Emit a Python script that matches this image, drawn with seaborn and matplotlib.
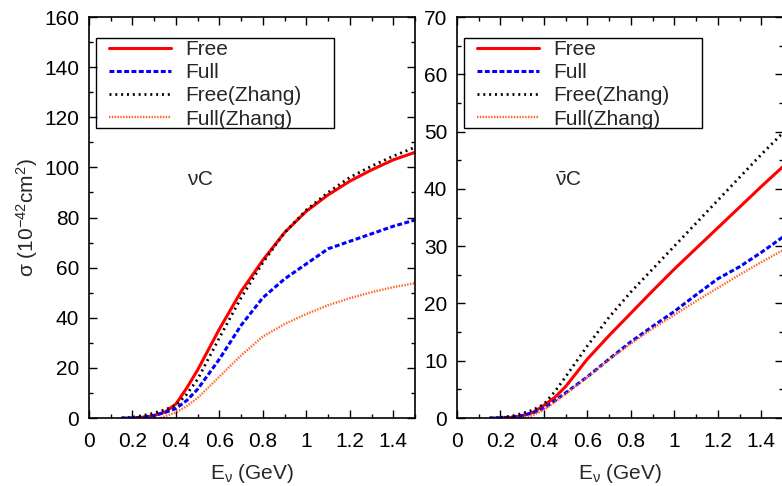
import matplotlib
matplotlib.use("Agg")
import matplotlib.pyplot as plt
import seaborn as sns
import numpy as np
from matplotlib.ticker import MultipleLocator
from matplotlib.patches import Rectangle

sns.set_theme(style="white")
plt.rcParams['font.family'] = ['Liberation Sans', 'DejaVu Sans']
plt.rcParams['mathtext.fontset'] = 'custom'
plt.rcParams['mathtext.rm'] = 'Liberation Sans'
plt.rcParams['mathtext.it'] = 'Liberation Sans'

# ---------------- data: neutrino (left) ----------------
nu_free_x = [0.2, 0.25, 0.3, 0.35, 0.4, 0.45, 0.5, 0.6, 0.7, 0.8, 0.9, 1.0, 1.1, 1.2, 1.3, 1.4, 1.5]
nu_free_y = [0.0, 0.3, 1.0, 2.4, 5.6, 12.0, 19.2, 35.5, 50.5, 63.0, 74.0, 82.5, 89.0, 94.5, 99.0, 103.0, 106.0]
nu_full_x = [0.15, 0.2, 0.25, 0.3, 0.35, 0.4, 0.45, 0.5, 0.6, 0.7, 0.8, 0.9, 1.0, 1.1, 1.2, 1.3, 1.4, 1.5]
nu_full_y = [0.0, 0.1, 0.3, 1.0, 2.2, 3.8, 7.0, 11.5, 23.5, 37.0, 48.0, 55.5, 61.5, 67.5, 70.5, 73.5, 76.5, 79.0]
nu_freez_x = [0.15, 0.2, 0.25, 0.3, 0.35, 0.4, 0.45, 0.5, 0.6, 0.7, 0.8, 0.9, 1.0, 1.1, 1.2, 1.3, 1.4, 1.5]
nu_freez_y = [0.0, 0.3, 1.0, 2.0, 3.3, 5.0, 9.5, 15.5, 32.0, 48.0, 62.0, 74.0, 83.0, 90.0, 96.0, 100.5, 104.5, 108.0]
nu_fullz_x = [0.33, 0.35, 0.4, 0.45, 0.5, 0.6, 0.7, 0.8, 0.9, 1.0, 1.1, 1.2, 1.3, 1.4, 1.5]
nu_fullz_y = [0.0, 0.7, 2.2, 4.8, 8.0, 16.5, 25.0, 32.5, 37.5, 41.5, 45.0, 47.8, 50.2, 52.2, 53.8]

# ---------------- data: antineutrino (right) ----------------
an_free_x = [0.2, 0.25, 0.3, 0.35, 0.4, 0.45, 0.5, 0.6, 0.7, 0.8, 0.9, 1.0, 1.1, 1.2, 1.3, 1.4, 1.5]
an_free_y = [0.0, 0.1, 0.4, 1.0, 2.2, 3.6, 5.5, 10.3, 14.4, 18.3, 22.2, 26.0, 29.6, 33.2, 36.8, 40.4, 43.9]
an_full_x = [0.15, 0.2, 0.25, 0.3, 0.35, 0.4, 0.45, 0.5, 0.6, 0.7, 0.8, 0.9, 1.0, 1.1, 1.2, 1.3, 1.4, 1.5]
an_full_y = [0.0, 0.05, 0.15, 0.4, 0.9, 1.7, 3.0, 4.4, 7.2, 10.3, 13.3, 16.0, 18.6, 21.5, 24.3, 26.4, 28.9, 31.6]
an_freez_x = [0.15, 0.2, 0.25, 0.3, 0.35, 0.4, 0.45, 0.5, 0.6, 0.7, 0.8, 0.9, 1.0, 1.1, 1.2, 1.3, 1.4, 1.5]
an_freez_y = [0.0, 0.1, 0.3, 0.8, 1.4, 2.4, 4.6, 7.2, 12.6, 17.6, 22.0, 26.0, 30.0, 34.0, 38.0, 42.0, 46.0, 49.8]
an_fullz_x = [0.3, 0.35, 0.4, 0.45, 0.5, 0.6, 0.7, 0.8, 0.9, 1.0, 1.1, 1.2, 1.3, 1.4, 1.5]
an_fullz_y = [0.0, 0.5, 1.4, 2.8, 4.2, 7.1, 10.2, 13.0, 15.6, 18.0, 20.4, 22.7, 25.0, 27.2, 29.3]

labels = ["Free", "Full", "Free(Zhang)", "Full(Zhang)"]
colors = ["#ff0000", "#0000ff", "#000000", "#ff6020"]
styles = ["-", (0, (1.6, 0.8)), (0, (0.7, 1.4)), (0, (0.6, 0.6))]
widths = [2.2, 2.2, 2.0, 1.7]

FS = 15
W, H = 782, 486
fig = plt.figure(figsize=(W / 100, H / 100), dpi=100)
axL = fig.add_axes([89 / W, 1 - 418 / H, 326 / W, 401 / H])
axR = fig.add_axes([457 / W, 1 - 418 / H, 326 / W, 401 / H])

panels = [
    (axL, [(nu_free_x, nu_free_y), (nu_full_x, nu_full_y), (nu_freez_x, nu_freez_y), (nu_fullz_x, nu_fullz_y)],
     160, 20, 10, r"$\nu$C", 95),
    (axR, [(an_free_x, an_free_y), (an_full_x, an_full_y), (an_freez_x, an_freez_y), (an_fullz_x, an_fullz_y)],
     70, 10, 5, r"$\bar{\nu}$C", 41.5),
]

for ax, series, ymax, ymaj, ymin, tag, tagy in panels:
    for (xs, ys), lab, c, ls, lw in zip(series, labels, colors, styles, widths):
        sns.lineplot(x=xs, y=ys, ax=ax, color=c, lw=lw, label=lab, sort=False)
        ax.lines[-1].set_linestyle(ls)
    ax.set_xlim(0, 1.5)
    ax.set_ylim(0, ymax)
    ax.xaxis.set_minor_locator(MultipleLocator(0.1))
    ax.yaxis.set_major_locator(MultipleLocator(ymaj))
    ax.yaxis.set_minor_locator(MultipleLocator(ymin))
    ax.set_xticks([0, 0.2, 0.4, 0.6, 0.8, 1.0, 1.2, 1.4])
    ax.set_xticklabels(["0", "0.2", "0.4", "0.6", "0.8", "1", "1.2", "1.4"])
    ax.tick_params(which='both', direction='in', top=True, right=True, bottom=True, left=True,
                   labelsize=FS, colors='black')
    ax.tick_params(which='major', length=6, width=1)
    ax.tick_params(which='minor', length=3, width=1)
    ax.tick_params(axis='y', which='major', pad=7)
    ax.tick_params(axis='x', which='major', pad=10)
    for sp in ax.spines.values():
        sp.set_color('black')
        sp.set_linewidth(1.2)
    ax.set_xlabel(r"E$_{\nu}$ (GeV)", fontsize=FS, labelpad=8)
    ax.text(0.51, tagy, tag, fontsize=FS, ha='center', va='center')
    leg = ax.legend(loc='upper left', bbox_to_anchor=(20 / 326, (418 - 40) / 401), fontsize=FS,
                    frameon=False, borderpad=0, labelspacing=0.2, handlelength=2.98,
                    handletextpad=0.67, borderaxespad=0)
    ax.add_patch(Rectangle((7 / 326, (418 - 128) / 401), 238 / 326, 90 / 401, transform=ax.transAxes,
                           fill=False, edgecolor='black', lw=1.0, zorder=5))
    ax.grid(False)

axL.set_ylabel(r"$\sigma$ (10$^{-42}$cm$^{2}$)", fontsize=FS, labelpad=3)
axR.set_ylabel("")

fig.savefig("out.png", dpi=100)
